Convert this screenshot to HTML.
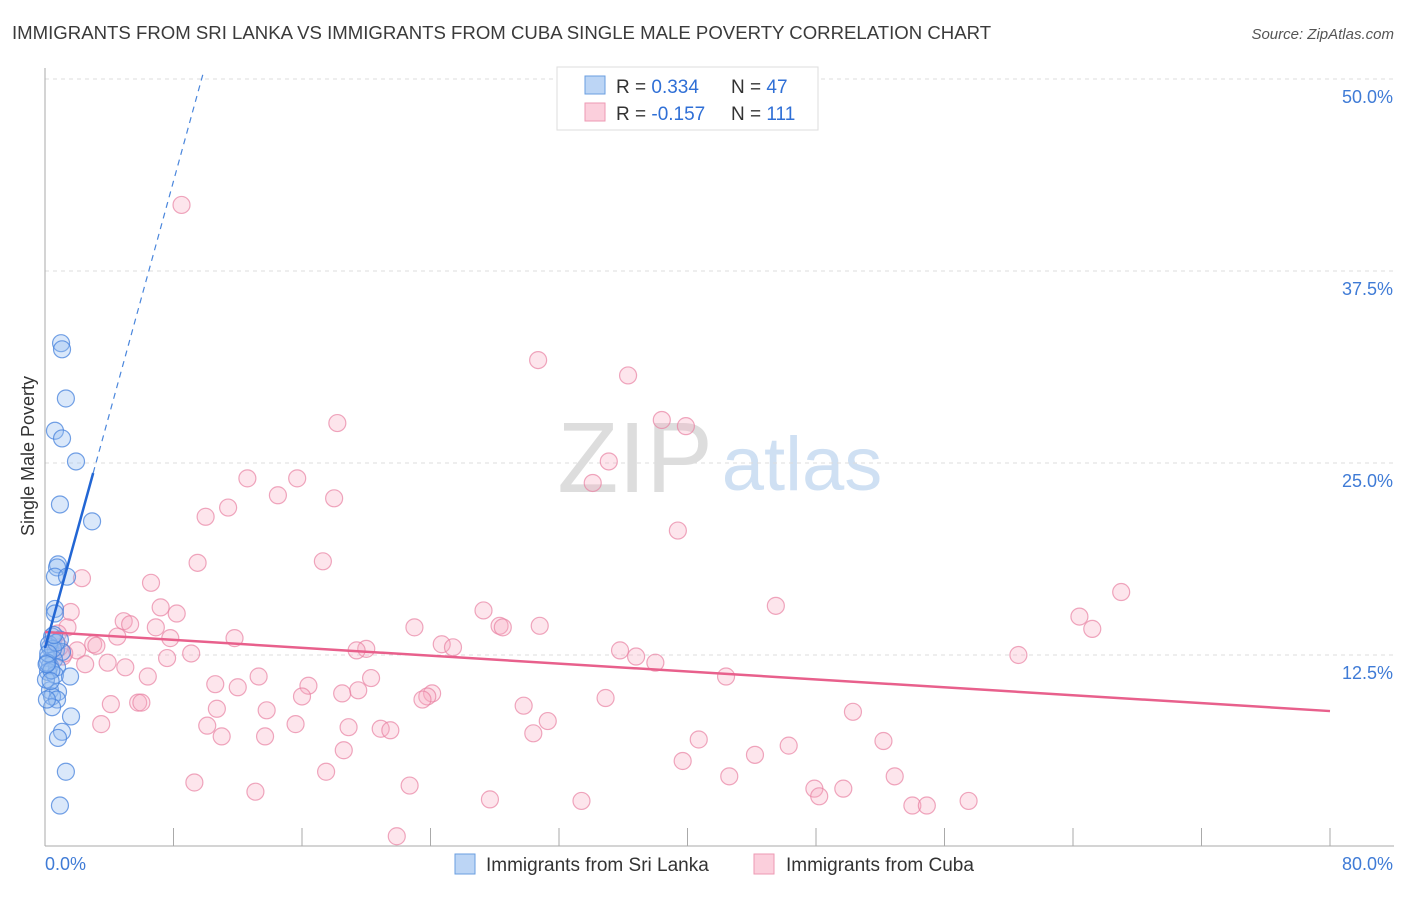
<!DOCTYPE html>
<html><head><meta charset="utf-8"><style>
body{margin:0;background:#fff;font-family:"Liberation Sans",sans-serif;}
svg text{font-family:"Liberation Sans",sans-serif;}
</style></head><body>
<svg id="chart" width="1406" height="892" xmlns="http://www.w3.org/2000/svg">
<text x="12" y="39" font-size="18.6" fill="#3a3a3a">IMMIGRANTS FROM SRI LANKA VS IMMIGRANTS FROM CUBA SINGLE MALE POVERTY CORRELATION CHART</text>
<text x="1394" y="39" font-size="15" fill="#555" text-anchor="end" font-style="italic">Source: ZipAtlas.com</text>
<g>
<text x="635" y="492" font-size="100" fill="#ddd" text-anchor="middle" font-family="Liberation Serif">ZIP</text>
<text x="802" y="490" font-size="76" fill="#cfe0f3" text-anchor="middle">atlas</text>
</g>
<g id="grid"></g>
<g id="axes"></g>
<g id="pts"></g>
<g id="lines"></g>
<text transform="translate(34,456) rotate(-90)" font-size="18" fill="#333" text-anchor="middle">Single Male Poverty</text>
<g>
<rect x="557" y="67" width="261" height="63" fill="#fff" stroke="#ddd"/>
<rect x="585" y="76" width="20" height="18" fill="#bcd5f5" stroke="#6a9ee0"/>
<rect x="585" y="103" width="20" height="18" fill="#fbcfdc" stroke="#ee9ab3"/>
<text x="616" y="93" font-size="19" fill="#333">R = <tspan fill="#2f6fd6">0.334</tspan><tspan x="731">N = </tspan><tspan fill="#2f6fd6">47</tspan></text>
<text x="616" y="120" font-size="19" fill="#333">R = <tspan fill="#2f6fd6">-0.157</tspan><tspan x="731">N = </tspan><tspan fill="#2f6fd6">111</tspan></text>
</g>
<g>
<rect x="455" y="854" width="20" height="20" fill="#bcd5f5" stroke="#6a9ee0"/>
<text x="486" y="871" font-size="19" fill="#333">Immigrants from Sri Lanka</text>
<rect x="754" y="854" width="20" height="20" fill="#fbcfdc" stroke="#ee9ab3"/>
<text x="786" y="871" font-size="19" fill="#333">Immigrants from Cuba</text>
</g>
</svg>
<script>
const yTicks=[12.5,25,37.5,50];
const yTickLabels=["12.5%","25.0%","37.5%","50.0%"];
const xTickValues=[0,8,16,24,32,40,48,56,64,72,80];
const xEndLabels=["0.0%","80.0%"];
const blueX=[1.0,1.06,1.3,0.62,1.06,1.93,0.93,2.93,0.81,0.75,0.62,1.37,0.62,0.62,0.44,0.93,0.31,0.68,1.06,0.19,0.56,0.31,0.75,0.19,0.62,1.56,0.31,0.81,0.44,0.75,0.44,1.62,1.06,0.81,1.3,0.93,0.06,0.12,0.25,0.5,0.15,0.4,0.7,0.2,0.35,0.55,0.1];
const blueY=[32.8,32.4,29.2,27.1,26.6,25.1,22.3,21.2,18.4,18.2,17.6,17.6,15.5,15.2,13.7,13.5,13.0,12.8,12.7,12.3,12.2,11.8,11.7,11.4,11.2,11.1,10.2,10.1,9.8,9.6,9.1,8.5,7.5,7.1,4.9,2.7,10.9,9.6,13.2,12.9,12.0,11.5,13.3,12.6,10.8,13.8,11.9];
const pinkX=[8.5,30.7,36.3,18.2,38.4,39.9,35.1,34.1,12.6,15.7,14.5,18.0,11.4,10.0,39.4,9.5,17.3,2.3,6.6,67.0,45.5,27.3,7.2,1.6,8.2,64.4,4.9,5.3,28.3,28.5,30.8,23.0,65.2,1.4,6.9,0.8,4.5,11.8,7.8,3.0,3.2,24.7,25.4,20.0,19.4,35.8,2.0,9.1,36.8,60.6,1.1,7.6,3.9,2.5,38.0,5.0,13.3,42.4,6.4,20.3,10.6,16.4,12.0,19.5,16.0,18.5,24.1,23.8,23.5,34.9,5.8,6.0,4.1,29.8,10.7,13.8,50.3,31.3,3.5,10.1,15.6,18.9,20.9,21.5,11.0,13.7,30.4,40.7,52.2,46.3,18.6,44.2,39.7,17.5,42.6,52.9,9.3,22.7,47.9,49.7,13.1,48.2,27.7,33.4,57.5,54.0,54.9,21.9,0.5,1.2,0.9];
const pinkY=[41.8,31.7,30.7,27.6,27.8,27.4,25.1,23.7,24.0,24.0,22.9,22.7,22.1,21.5,20.6,18.5,18.6,17.5,17.2,16.6,15.7,15.4,15.6,15.3,15.2,15.0,14.7,14.5,14.4,14.3,14.4,14.3,14.2,14.3,14.3,13.9,13.7,13.6,13.6,13.2,13.1,13.2,13.0,12.9,12.8,12.8,12.8,12.6,12.4,12.5,12.4,12.3,12.0,11.9,12.0,11.7,11.1,11.1,11.1,11.0,10.6,10.5,10.4,10.2,9.8,10.0,10.0,9.8,9.6,9.7,9.4,9.4,9.3,9.2,9.0,8.9,8.8,8.2,8.0,7.9,8.0,7.8,7.7,7.6,7.2,7.2,7.4,7.0,6.9,6.6,6.3,6.0,5.6,4.9,4.6,4.6,4.2,4.0,3.8,3.8,3.6,3.3,3.1,3.0,3.0,2.7,2.7,0.7,13.4,12.6,13.0];
const blueFit=[12.95,3.8];
const pinkFit=[14.0,8.85];
const X=v=>45+v*(1285/80);
const Y=v=>847-v*(192/12.5);
const NS="http://www.w3.org/2000/svg";
function mk(tag,attrs,parent){const e=document.createElementNS(NS,tag);for(const k in attrs)e.setAttribute(k,attrs[k]);parent.appendChild(e);return e;}
const grid=document.getElementById('grid'),axes=document.getElementById('axes'),pts=document.getElementById('pts'),lines=document.getElementById('lines');
yTicks.forEach((t,i)=>{
const l=mk('line',{x1:45,x2:1394,y1:Y(t),y2:Y(t),stroke:'#ddd','stroke-dasharray':'4,4'},grid);


const tx=mk('text',{x:1393,y:Y(t)+24,'font-size':18,fill:'#3f7bd6','text-anchor':'end'},axes);
tx.textContent=yTickLabels[i];


});
const ya=mk('line',{x1:45,x2:45,y1:68,y2:846,stroke:'#aaa'},axes);


const xa=mk('line',{x1:45,x2:1394,y1:846,y2:846,stroke:'#aaa'},axes);


xTickValues.forEach(v=>{
const t=mk('line',{x1:X(v),x2:X(v),y1:828,y2:846,stroke:'#aaa'},axes);


});
const xl0=mk('text',{x:45,y:870,'font-size':18,fill:'#3f7bd6'},axes);xl0.textContent=xEndLabels[0];


const xl1=mk('text',{x:1393,y:870,'font-size':18,fill:'#3f7bd6','text-anchor':'end'},axes);xl1.textContent=xEndLabels[1];


pinkX.forEach((v,i)=>{
const c=mk('circle',{cx:X(v),cy:Y(pinkY[i]),r:8.5,fill:'rgba(247,168,192,0.3)',stroke:'rgba(232,130,162,0.7)','stroke-width':1.2},pts);


});
blueX.forEach((v,i)=>{
const c=mk('circle',{cx:X(v),cy:Y(blueY[i]),r:8.5,fill:'rgba(150,190,240,0.35)',stroke:'rgba(70,130,220,0.75)','stroke-width':1.2},pts);


});
const pl=mk('line',{x1:X(0),y1:Y(pinkFit[0]),x2:X(80),y2:Y(pinkFit[1]),stroke:'#e8608c','stroke-width':2.5},lines);


const bEnd=3.0;
const bl=mk('line',{x1:X(0),y1:Y(blueFit[0]),x2:X(bEnd),y2:Y(blueFit[0]+blueFit[1]*bEnd),stroke:'#2266d4','stroke-width':2.5},lines);


const xTop=(50.5-blueFit[0])/blueFit[1];
const bd=mk('line',{x1:X(bEnd),y1:Y(blueFit[0]+blueFit[1]*bEnd),x2:X(xTop),y2:Y(50.5),stroke:'#4a86dc','stroke-width':1.2,'stroke-dasharray':'6,5'},lines);


</script>
</body></html>
